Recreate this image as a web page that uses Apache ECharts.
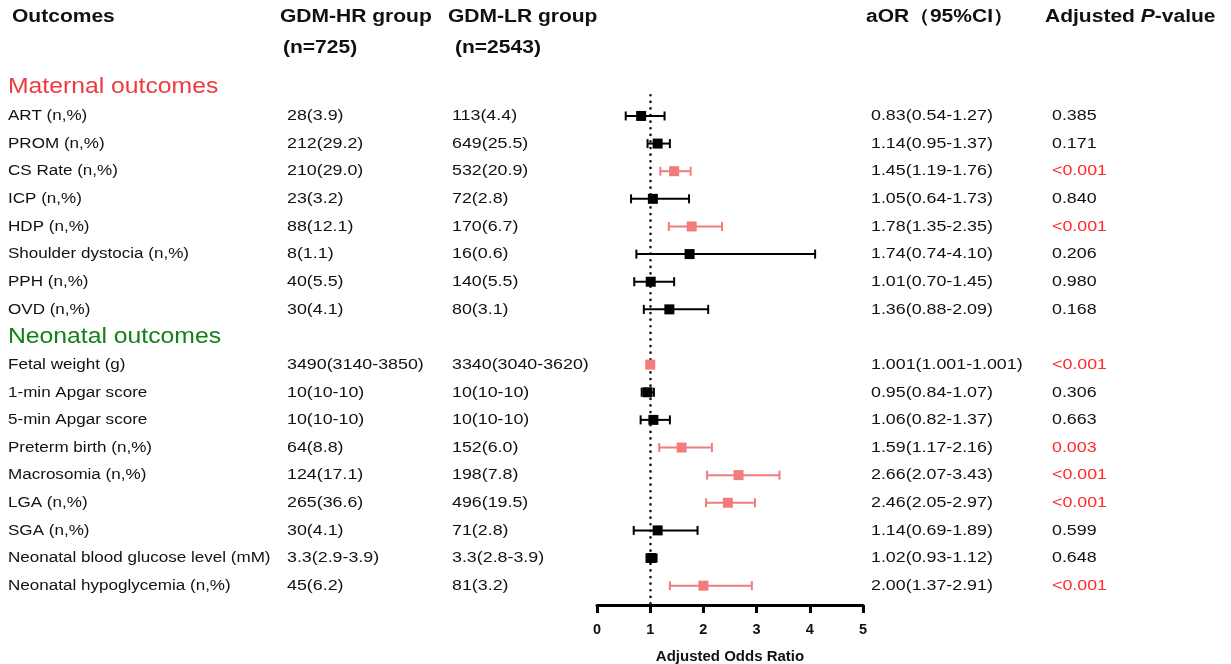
<!DOCTYPE html>
<html>
<head>
<meta charset="utf-8">
<script src="https://cdn.jsdelivr.net/npm/echarts@6/dist/echarts.min.js"></script>
<style>
  html, body { margin: 0; padding: 0; background: #fff; }
  #chart-container { width: 1231px; height: 664px; }
</style>
</head>
<body>
<div id="chart-container"></div>
<script>
// 表格数据
const outcomes = [
  'ART (n,%)', 'PROM (n,%)', 'CS Rate (n,%)', 'ICP (n,%)', 'HDP (n,%)',
  'Shoulder dystocia (n,%)', 'PPH (n,%)', 'OVD (n,%)', '',
  'Fetal weight (g)', '1-min Apgar score', '5-min Apgar score', 'Preterm birth (n,%)',
  'Macrosomia (n,%)', 'LGA (n,%)', 'SGA (n,%)', 'Neonatal blood glucose level (mM)',
  'Neonatal hypoglycemia (n,%)'
];
const hrGroup = [
  '28(3.9)', '212(29.2)', '210(29.0)', '23(3.2)', '88(12.1)', '8(1.1)', '40(5.5)', '30(4.1)', '',
  '3490(3140-3850)', '10(10-10)', '10(10-10)', '64(8.8)', '124(17.1)', '265(36.6)', '30(4.1)',
  '3.3(2.9-3.9)', '45(6.2)'
];
const lrGroup = [
  '113(4.4)', '649(25.5)', '532(20.9)', '72(2.8)', '170(6.7)', '16(0.6)', '140(5.5)', '80(3.1)', '',
  '3340(3040-3620)', '10(10-10)', '10(10-10)', '152(6.0)', '198(7.8)', '496(19.5)', '71(2.8)',
  '3.3(2.8-3.9)', '81(3.2)'
];
const aorText = [
  '0.83(0.54-1.27)', '1.14(0.95-1.37)', '1.45(1.19-1.76)', '1.05(0.64-1.73)', '1.78(1.35-2.35)',
  '1.74(0.74-4.10)', '1.01(0.70-1.45)', '1.36(0.88-2.09)', '',
  '1.001(1.001-1.001)', '0.95(0.84-1.07)', '1.06(0.82-1.37)', '1.59(1.17-2.16)', '2.66(2.07-3.43)',
  '2.46(2.05-2.97)', '1.14(0.69-1.89)', '1.02(0.93-1.12)', '2.00(1.37-2.91)'
];
const pText = [
  '0.385', '0.171', '<0.001', '0.840', '<0.001', '0.206', '0.980', '0.168', '',
  '<0.001', '0.306', '0.663', '0.003', '<0.001', '<0.001', '0.599', '0.648', '<0.001'
];
// 森林图数据（aOR 与 95%CI）
const aor = [0.83, 1.14, 1.45, 1.05, 1.78, 1.74, 1.01, 1.36, null,
  1.001, 0.95, 1.06, 1.59, 2.66, 2.46, 1.14, 1.02, 2.00];
const ciLow = [0.54, 0.95, 1.19, 0.64, 1.35, 0.74, 0.70, 0.88, null,
  1.001, 0.84, 0.82, 1.17, 2.07, 2.05, 0.69, 0.93, 1.37];
const ciHigh = [1.27, 1.37, 1.76, 1.73, 2.35, 4.10, 1.45, 2.09, null,
  1.001, 1.07, 1.37, 2.16, 3.43, 2.97, 1.89, 1.12, 2.91];
const significant = [false, false, true, false, true, false, false, false, false,
  true, false, false, true, true, true, false, false, true];
const sectionNames = ['Maternal outcomes', 'Neonatal outcomes'];
const sectionRows = [-1.05, 8];
const sectionColors = ['#ee3b3f', '#13801a'];
const xTicks = [0, 1, 2, 3, 4, 5];

const PINK = '#f27b7b';
const RED = '#ff2a2a';
const INK = '#111';
const FONT = '"Liberation Sans", Arial, sans-serif';
const SX = 1.15; // 原图文字横向拉伸

// 表格列的 x 位置
const columns = [
  { texts: outcomes, x: 8, sx: 1.10 },
  { texts: hrGroup, x: 287, sx: SX },
  { texts: lrGroup, x: 452, sx: SX },
  { texts: aorText, x: 871, sx: SX },
  { texts: pText, x: 1052, sx: SX, red: true }
];

const tableData = [];
columns.forEach((c, ci) => {
  c.texts.forEach((t, i) => {
    if (t !== '') tableData.push([c.x, i, ci]);
  });
});

const tableSeries = {
  type: 'custom',
  xAxisIndex: 0,
  yAxisIndex: 0,
  silent: true,
  data: tableData,
  renderItem: function (params, api) {
    const pt = api.coord([api.value(0), api.value(1)]);
    const col = columns[api.value(2)];
    const row = api.value(1);
    const fill = col.red && significant[row] ? RED : INK;
    return {
      type: 'text', x: pt[0], y: pt[1], scaleX: col.sx,
      style: {
        text: col.texts[row], fill: fill, font: '15.5px ' + FONT,
        verticalAlign: 'middle', align: 'left'
      }
    };
  }
};

const sectionSeries = {
  type: 'custom',
  xAxisIndex: 0,
  yAxisIndex: 0,
  silent: true,
  data: sectionRows.map((r, i) => [8, r, i]),
  renderItem: function (params, api) {
    const pt = api.coord([api.value(0), api.value(1)]);
    const i = api.value(2);
    return {
      type: 'text', x: pt[0], y: pt[1], scaleX: SX,
      style: {
        text: sectionNames[i], fill: sectionColors[i], font: '21.5px ' + FONT,
        verticalAlign: 'middle', align: 'left'
      }
    };
  }
};

const forestData = aor.map((v, i) => v == null ? null : [v, i, ciLow[i], ciHigh[i], significant[i] ? 1 : 0])
  .filter(d => d);

const ciSeries = {
  type: 'custom',
  xAxisIndex: 1,
  yAxisIndex: 1,
  silent: true,
  data: forestData,
  renderItem: function (params, api) {
    const c = api.coord([api.value(0), api.value(1)]);
    const x0 = api.coord([api.value(2), api.value(1)])[0];
    const x1 = api.coord([api.value(3), api.value(1)])[0];
    const y = c[1];
    const color = api.value(4) ? PINK : '#000';
    const children = [];
    if (x1 - x0 > 1) {
      const st = { stroke: color, lineWidth: 2 };
      children.push(
        { type: 'line', shape: { x1: x0, y1: y, x2: x1, y2: y }, style: st },
        { type: 'line', shape: { x1: x0, y1: y - 4.5, x2: x0, y2: y + 4.5 }, style: st },
        { type: 'line', shape: { x1: x1, y1: y - 4.5, x2: x1, y2: y + 4.5 }, style: st }
      );
    }
    children.push({ type: 'rect', shape: { x: c[0] - 5, y: y - 5, width: 10, height: 10 }, style: { fill: color } });
    return { type: 'group', children: children };
  },
  z: 5
};

const refLine = {
  type: 'line',
  xAxisIndex: 1,
  yAxisIndex: 1,
  data: [],
  markLine: {
    silent: true,
    symbol: 'none',
    label: { show: false },
    lineStyle: { color: '#111', type: [0.1, 6.5], width: 2.6, cap: 'round' },
    data: [[{ coord: [1, -0.75] }, { coord: [1, 17.7] }]]
  }
};

const yAxisCommon = {
  type: 'value', inverse: true, min: -1.5, max: 17.7, show: false
};

function headerText(text, left, top) {
  return {
    type: 'text', left: left, top: top, scaleX: SX,
    style: { text: text, font: 'bold 18.3px ' + FONT, fill: INK }
  };
}

const option = {
  animation: false,
  backgroundColor: '#fff',
  textStyle: { fontFamily: FONT },
  grid: [
    { left: 0, right: 0, top: 74.5, bottom: 59, outerBoundsMode: 'none', containLabel: false },
    { left: 597, width: 266, top: 74.5, bottom: 59, outerBoundsMode: 'none', containLabel: false }
  ],
  xAxis: [
    { gridIndex: 0, type: 'value', min: 0, max: 1231, show: false },
    {
      gridIndex: 1, type: 'value', min: 0, max: 5, interval: 1,
      name: 'Adjusted Odds Ratio', nameLocation: 'middle', nameGap: 44,
      nameTextStyle: { fontFamily: FONT, fontSize: 15, fontWeight: 'bold', color: INK },
      axisLine: { show: true, onZero: false, lineStyle: { color: '#000', width: 3 } },
      axisTick: { show: true, inside: false, length: 8, lineStyle: { color: '#000', width: 3 } },
      axisLabel: {
        fontFamily: FONT, fontSize: 14.5, fontWeight: 'bold', color: INK, margin: 17,
        formatter: v => xTicks.indexOf(v) >= 0 ? String(v) : ''
      },
      splitLine: { show: false }
    }
  ],
  yAxis: [
    Object.assign({ gridIndex: 0 }, yAxisCommon),
    Object.assign({ gridIndex: 1 }, yAxisCommon)
  ],
  graphic: [
    headerText('Outcomes', 12, 8),
    headerText('GDM-HR group', 280, 8),
    headerText('(n=725)', 283, 39),
    headerText('GDM-LR group', 448, 8),
    headerText('(n=2543)', 455, 39),
    headerText('aOR（95%CI）', 866, 8),
    {
      type: 'text', left: 1045, top: 8, scaleX: SX,
      style: {
        text: '{b|Adjusted }{i|P}{b|-value}',
        rich: {
          b: { font: 'bold 18.3px ' + FONT, fill: INK },
          i: { font: 'italic bold 18.3px ' + FONT, fill: INK }
        }
      }
    }
  ],
  series: [tableSeries, sectionSeries, refLine, ciSeries]
};

const chartContainer = document.getElementById('chart-container');
const chart = echarts.init(chartContainer);
chart.setOption(option);
</script>
</body>
</html>
